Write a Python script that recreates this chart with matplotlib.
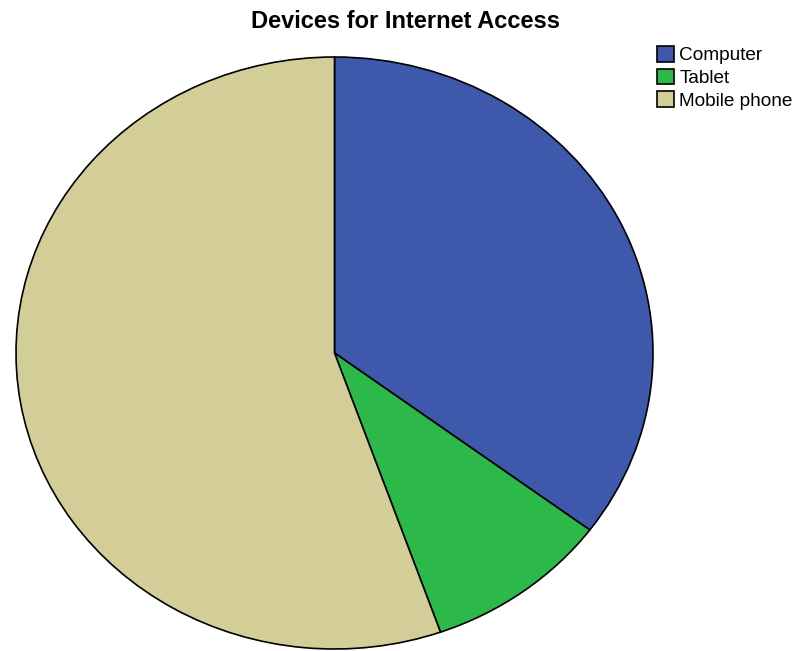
import matplotlib
matplotlib.use("Agg")
import matplotlib.pyplot as plt

plt.rcParams['font.family'] = ['Liberation Sans', 'DejaVu Sans']

labels = ["Computer", "Tablet", "Mobile phone"]
shares = [35.2, 9.4, 55.4]
colors = ["#3E58AC", "#2DB84A", "#D3CE97"]

W, H = 800, 651
fig = plt.figure(figsize=(W / 100, H / 100), dpi=100)

# pie area in pixel units (left, top, right, bottom)
l, t, r, b = 16, 57, 653, 649
ax = fig.add_axes([l / W, 1 - b / H, (r - l) / W, (b - t) / H])

wedges, _ = ax.pie(shares, colors=colors, startangle=90, counterclock=False,
                   wedgeprops=dict(edgecolor="black", linewidth=1.2))
ax.set_aspect('auto')
ax.set_xlim(-1, 1)
ax.set_ylim(-1, 1)
ax.axis('off')

fig.text(406 / W, 1 - 22 / H, "Devices for Internet Access", ha="center", va="center",
         fontsize=17, fontweight="bold")

fig.legend(wedges, labels, loc="upper left", bbox_to_anchor=(657 / W, 1 - 46 / H),
           frameon=False, fontsize=13.7, handlelength=0.9, handleheight=0.9,
           handletextpad=0.28, labelspacing=0.22, borderpad=0, borderaxespad=0)

fig.savefig("out.png", dpi=100)
